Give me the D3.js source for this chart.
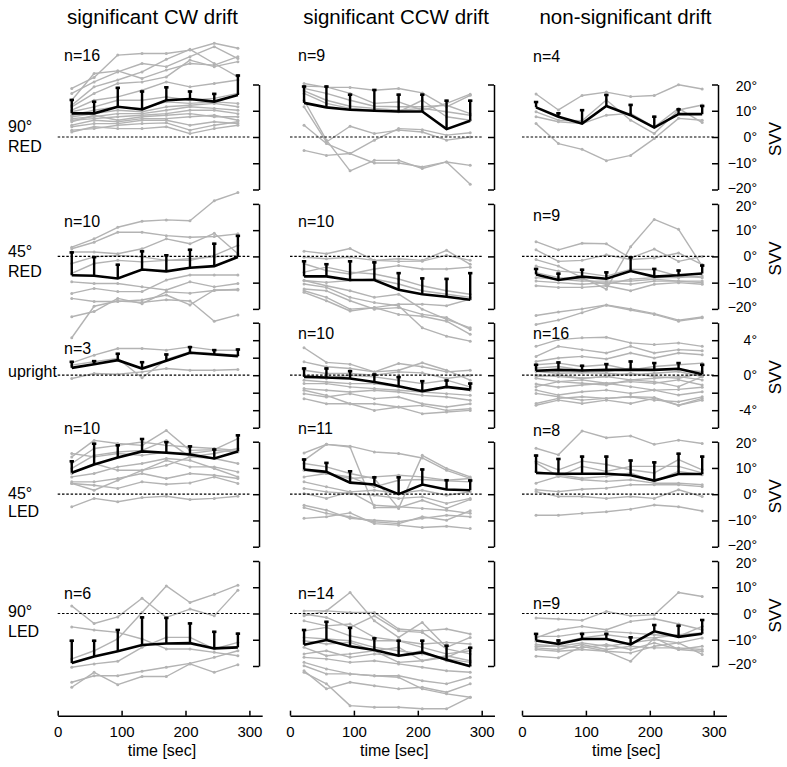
<!DOCTYPE html>
<html><head><meta charset="utf-8">
<script src="https://cdn.jsdelivr.net/npm/d3@7"></script>
<style>
body{margin:0;background:#fff}
svg{display:block}
text{font-family:"Liberation Sans",Arial,Helvetica,sans-serif;fill:#000}
</style>
</head><body>
<svg id="chart" width="787" height="767"></svg>
<script>
// ---------------- DATA ----------------
const times = [22, 57, 94, 132, 170, 207, 245, 282];
const columnTitles = ["significant CW drift", "significant CCW drift", "non-significant drift"];
const rowLabels = [["90°", "RED"], ["45°", "RED"], ["upright"], ["45°", "LED"], ["90°", "LED"]];
const nCounts = [[16, 9, 4], [10, 10, 9], [3, 10, 16], [10, 11, 8], [6, 14, 9]];
const xTicks = [0, 100, 200, 300];
const yTicksWide = [-20, -10, 0, 10, 20];
const yTickLabelsWide = ["−20°", "−10°", "0°", "10°", "20°"];
const yTicksUpright = [-6, -4, -2, 0, 2, 4, 6];
const yLabelTicksUpright = [-4, 0, 4];
const yTickLabelsUpright = ["-4°", "0°", "4°"];

// 90° RED
const red90_cw_mean = [9, 9, 11.5, 10.5, 14, 14.5, 13.5, 16];
const red90_cw_sd = [5.5, 4.8, 7.6, 7.2, 5.3, 3.2, 3.3, 7.8];
const red90_cw_subjects = [
  [18.5, 22.7, 31.2, 31.8, 31.8, 33.1, 35.7, 33.8],
  [16.6, 21.0, 24.8, 28.0, 26.8, 30.6, 34.4, 29.9],
  [14.0, 24.2, 25.2, 22.3, 25.5, 28.0, 27.4, 30.6],
  [12.1, 19.1, 21.7, 24.8, 29.6, 33.4, 28.0, 22.9],
  [11.5, 16.6, 20.4, 21.0, 22.9, 29.3, 26.8, 28.7],
  [10.2, 14.0, 15.3, 17.8, 21.0, 19.1, 20.4, 21.7],
  [9.6, 11.5, 14.0, 14.0, 15.3, 14.0, 14.7, 16.6],
  [8.3, 10.2, 11.5, 10.9, 13.4, 12.8, 13.4, 12.8],
  [7.7, 8.9, 10.2, 9.6, 11.5, 12.1, 12.8, 11.5],
  [7.0, 7.7, 8.9, 8.9, 10.2, 11.5, 10.9, 10.2],
  [6.4, 7.0, 7.7, 8.3, 8.9, 10.2, 10.2, 8.9],
  [5.8, 8.3, 6.4, 7.7, 8.3, 8.9, 7.7, 7.7],
  [4.5, 6.4, 5.8, 7.0, 7.0, 7.7, 8.3, 6.4],
  [3.9, 5.1, 5.1, 6.4, 6.4, 4.5, 5.8, 5.1],
  [2.6, 3.2, 4.5, 5.1, 5.4, 2.6, 4.5, 5.8],
  [1.9, 3.9, 3.2, 3.2, 3.9, 1.3, 3.2, 4.5]
];
const red90_ccw_mean = [13, 11.3, 10.4, 10, 9.7, 9.7, 3, 6.2];
const red90_ccw_sd = [6.6, 8.3, 6.1, 8.3, 6.8, 6.8, 11.2, 8];
const red90_ccw_subjects = [
  [20.4, 18.9, 18.9, 17.8, 18.5, 16.8, 11.5, 15.9],
  [19.4, 19.1, 16.6, 12.8, 13.4, 10.2, 12.8, 16.3],
  [18.5, 16.6, 14.0, 11.7, 11.5, 11.5, 12.1, 8.9],
  [17.6, 14.0, 11.7, 10.9, 10.2, 10.9, 9.6, 8.3],
  [16.6, 12.8, 10.9, 10.2, 9.6, 14.0, 7.7, 6.4],
  [11.5, -1.9, 4.1, 1.3, 2.6, 1.9, -1.2, 0.0],
  [4.5, -2.5, -6.3, -1.2, 3.2, 2.8, 0.7, 1.6],
  [-5.1, -7.0, -6.3, -9.9, -9.9, -11.4, -9.5, -10.8],
  [14.0, -1.2, -12.9, -8.9, -8.9, -12.0, -9.5, -18.0]
];
const red90_ns_mean = [11.3, 7.7, 5.1, 11.8, 8.3, 3.6, 8.7, 8.7];
const red90_ns_sd = [2.4, 1.7, 5.5, 4.6, 4.3, 4.5, 2.2, 3.5];
const red90_ns_subjects = [
  [16.4, 10.3, 15.8, 17.1, 15.4, 15.8, 19.9, 18.3],
  [9.6, 6.4, 6.2, 14.1, 6.4, 1.3, 10.3, 12.2],
  [7.7, 5.8, 5.1, 8.3, 9.0, 3.8, 10.9, 5.5],
  [5.1, -2.5, -4.7, -9.0, -7.0, -0.6, 7.1, 6.4]
];

// 45° RED
const red45_cw_mean = [-7.2, -7.4, -8.4, -5, -5.7, -4.3, -3.7, -0.2];
const red45_cw_sd = [9.1, 7.5, 5.6, 7.3, 6.5, 7.2, 8.9, 8.4];
const red45_cw_subjects = [
  [3.5, 6.7, 11.1, 13.4, 13.9, 13.6, 21.2, 24.3],
  [2.9, 5.4, 9.2, 9.2, 7.9, 7.3, 7.6, 8.6],
  [1.7, 1.7, 1.0, 2.9, 6.7, 4.8, 8.8, 1.0],
  [-2.7, -0.2, 0.4, -0.2, -1.5, -0.9, -0.2, 0.4],
  [-6.5, -2.7, -1.5, -2.1, -1.5, -1.5, 0.4, 4.2],
  [-9.7, -10.3, -10.3, -11.6, -12.8, -9.7, -11.6, -10.3],
  [-14.1, -12.2, -13.4, -13.4, -9.0, -7.1, -7.1, -7.1],
  [-16.0, -17.2, -17.2, -16.6, -14.7, -18.5, -12.8, -12.8],
  [-23.0, -21.0, -16.0, -18.0, -13.5, -14.0, -13.0, -12.5],
  [-31.0, -19.0, -17.0, -17.5, -16.5, -17.0, -24.7, -22.3]
];
const red45_ccw_mean = [-7.6, -7.6, -9, -9, -12.7, -14.4, -15.4, -16.5];
const red45_ccw_sd = [6.1, 5, 7.5, 7.1, 6.7, 6.4, 7.2, 10.5];
const red45_ccw_subjects = [
  [2.0, 1.0, 3.0, -1.5, -0.9, -1.5, 2.3, -3.0],
  [-0.3, -0.9, -0.3, -1.5, -1.9, -1.8, 0.4, -1.5],
  [-2.8, -5.4, -6.7, -4.8, -3.5, -4.8, -4.8, -4.1],
  [-6.0, -4.1, -6.0, -6.7, -8.6, -11.2, -13.1, -14.4],
  [-9.2, -9.9, -9.2, -8.6, -10.5, -13.1, -14.4, -15.6],
  [-12.4, -13.1, -16.9, -20.1, -19.5, -22.1, -23.3, -27.8],
  [-13.1, -15.6, -20.1, -19.5, -18.2, -18.2, -18.8, -16.3],
  [-13.7, -16.9, -20.8, -19.5, -22.1, -22.8, -24.7, -29.7],
  [-10.5, -11.8, -15.6, -17.6, -18.8, -27.2, -30.4, -32.3],
  [-9.2, -11.2, -13.1, -15.6, -14.4, -20.1, -24.0, -27.2]
];
const red45_ns_mean = [-6.9, -9, -7.7, -8.5, -5.6, -7.7, -7.2, -6.5];
const red45_ns_sd = [2.5, 2.8, 3, 2.8, 5.6, 3.3, 2.2, 3.4];
const red45_ns_subjects = [
  [5.6, 2.5, 5.0, 4.8, -0.6, 2.8, -1.9, 0.0],
  [2.5, -1.9, -1.5, 0.6, -1.2, -0.6, 1.3, -3.1],
  [-1.2, -3.7, -8.1, -12.5, 3.7, 14.1, 10.3, -3.7],
  [-3.7, -5.6, -6.2, -7.5, -5.0, -5.0, -7.5, -8.1],
  [-6.2, -8.1, -8.7, -10.6, -8.7, -8.1, -8.1, -7.5],
  [-8.1, -8.7, -9.4, -9.4, -9.4, -8.7, -9.4, -9.4],
  [-9.4, -10.0, -10.6, -10.0, -10.6, -9.4, -9.4, -10.0],
  [-11.2, -11.8, -11.8, -11.2, -13.1, -10.6, -10.0, -10.6],
  [-22.5, -21.2, -20.0, -18.5, -20.0, -21.8, -24.3, -23.1]
];

// upright
const upright_cw_mean = [0.84, 1.26, 1.72, 0.76, 1.64, 2.56, 2.37, 2.18];
const upright_cw_sd = [0.8, 0.46, 0.84, 0.84, 0.84, 0.76, 0.61, 0.87];
const upright_cw_subjects = [
  [1.41, 2.29, 3.05, 3.05, 2.86, 3.24, 2.86, 2.86],
  [1.15, 1.53, 1.91, -0.3, 1.8, 2.67, 2.48, 2.29],
  [-0.38, 0.19, 0.11, 0.38, 0.76, 0.57, 0.57, 0.65]
];
const upright_ccw_mean = [-0.19, -0.27, -0.38, -0.77, -1.26, -1.84, -1.34, -1.65];
const upright_ccw_sd = [1.07, 1.15, 0.95, 0.96, 1.15, 1.27, 0.84, 0.81];
const upright_ccw_subjects = [
  [3.14, 1.46, 1.26, 0.38, 0.57, 1.42, 0.57, -0.57],
  [1.53, 0.96, 0.77, 0.38, 1.34, 0.96, 0.38, 0.57],
  [0.57, 0.19, 0.19, 0, 0.38, 0.27, -0.38, 0],
  [0, -0.38, 0, -0.19, -0.57, -0.96, -0.57, -1.34],
  [-0.57, -0.77, -0.96, -0.96, -1.34, -1.72, -1.34, -1.72],
  [-0.96, -0.96, -1.34, -1.53, -1.72, -1.92, -2.11, -2.30],
  [-1.53, -1.72, -1.92, -1.72, -1.92, -2.30, -2.49, -2.87],
  [-2.11, -2.49, -2.11, -2.68, -2.49, -3.26, -3.64, -3.26],
  [-2.68, -3.26, -3.26, -3.26, -3.64, -3.45, -4.02, -3.83],
  [-1.72, -2.30, -3.26, -4.02, -3.64, -4.40, -4.21, -4.02]
];
const upright_ns_mean = [0.5, 0.61, 0.53, 0.61, 0.61, 0.61, 0.73, 0.12];
const upright_ns_sd = [0.8, 0.96, 0.66, 0.77, 1.07, 0.89, 0.77, 1.18];
const upright_ns_subjects = [
  [5.8, 6.3, 7.15, 8.0, 7.45, 6.95, 6.18, 6.57],
  [3.3, 4.07, 4.27, 4.34, 3.69, 3.5, 3.69, 3.3],
  [2.15, 3.3, 2.92, 2.54, 3.3, 2.54, 2.92, 2.8],
  [1.57, 1.96, 2.15, 1.85, 2.54, 1.96, 2.54, 2.34],
  [1.19, 1.38, 0.99, 1.19, 0.61, 0.99, 1.19, 1.38],
  [0.81, 0.99, 0.61, 0.42, 0.81, 0.61, 0.61, 0.42],
  [0.42, 0.23, 0.30, 0.23, 0.03, 0.23, 0.42, -0.16],
  [0.03, -0.16, -0.35, -0.16, -0.54, -0.35, -0.16, -0.54],
  [-0.35, -0.74, -0.54, -0.92, -0.74, -0.92, -0.54, -1.12],
  [-1.31, -0.74, -0.92, -1.12, -0.54, -0.74, -1.31, -0.16],
  [-1.70, -2.27, -1.89, -1.70, -2.08, -1.70, -2.27, -1.89],
  [-2.08, -2.47, -2.85, -2.65, -2.47, -2.85, -3.04, -2.47],
  [-3.23, -2.65, -2.47, -2.65, -2.47, -2.54, -3.43, -2.65],
  [-3.43, -2.85, -3.23, -2.85, -3.23, -2.65, -3.43, -2.85],
  [-1.0, -1.38, -1.12, -0.92, -1.31, -1.70, -1.62, -1.38],
  [-0.16, 0.03, -0.35, -0.16, 0.23, -0.16, -0.35, 0.23]
];

// 45° LED
const led45_cw_mean = [8.2, 11.3, 14, 16.3, 15.8, 15.1, 13.6, 16.3];
const led45_cw_sd = [4.7, 8.3, 5, 5.1, 4.4, 3.5, 3.8, 6.5];
const led45_cw_subjects = [
  [14.2, 20.5, 19.3, 18.6, 24.3, 16.7, 17.0, 21.2],
  [11.7, 17.4, 18.6, 19.9, 18.6, 18.0, 17.4, 16.7],
  [9.8, 14.8, 16.1, 16.7, 20.5, 14.2, 15.5, 17.4],
  [15.5, 14.2, 15.5, 14.8, 16.1, 15.5, 16.7, 16.1],
  [7.9, 11.7, 9.1, 9.1, 12.9, 10.4, 10.4, 8.5],
  [6.6, 7.9, 10.4, 11.7, 13.6, 12.9, 9.8, 6.6],
  [4.7, 4.7, 6.0, 7.9, 6.0, 7.9, 7.2, 6.0],
  [4.1, 1.5, 5.3, 9.1, 11.0, 14.2, 13.6, 11.7],
  [4.1, 3.4, 2.2, 4.7, 3.8, 4.3, 6.6, 4.1],
  [-4.8, -1.6, -2.9, -1.3, -0.8, -2.0, -1.6, -0.8]
];
const led45_ccw_mean = [9.4, 8.5, 4.4, 3.7, 0, 3.7, 1.8, 1.5];
const led45_ccw_sd = [4.2, 3.8, 4.7, 3.1, 6.8, 6.1, 3.9, 4.1];
const led45_ccw_subjects = [
  [15.7, 19.0, 18.3, 16.1, 15.5, 13.8, 9.1, 6.0],
  [12.9, 19.0, 18.0, -5.1, -5.1, -2.3, -5.4, -2.0],
  [11.7, 10.4, 7.9, 6.0, -5.4, 14.8, 9.8, 6.6],
  [9.1, 7.9, 6.0, 6.6, 7.2, 6.6, 5.3, 6.0],
  [6.6, 7.9, 6.6, 2.8, 5.3, 5.6, 5.1, 4.7],
  [4.7, 2.8, 0.9, 1.5, 0.3, 1.5, -0.4, 0.9],
  [2.2, 0.9, 0.3, -0.4, -1.6, -1.0, -3.5, -1.6],
  [0.3, -1.6, 0.9, -4.2, -4.8, -5.4, -6.1, -7.3],
  [-5.1, -7.3, -8.6, -10.5, -11.2, -8.6, -9.9, -6.3],
  [-9.2, -8.6, -7.1, -11.2, -11.8, -12.7, -12.2, -13.1],
  [-4.2, -6.1, -9.2, -9.9, -10.5, -9.2, -8.0, -8.6]
];
const led45_ns_mean = [8.1, 7.8, 7.8, 7.8, 7.2, 5.2, 7.7, 7.7];
const led45_ns_sd = [7, 6, 6.9, 6.9, 6, 7.3, 8.1, 7];
const led45_ns_subjects = [
  [17.5, 15.0, 24.1, 21.5, 22.2, 19.0, 20.6, 19.3],
  [12.6, 9.3, 12.6, 11.3, 9.3, 8.1, 13.2, 9.3],
  [11.9, 6.8, 10.6, 8.7, 10.6, 10.6, 10.6, 8.1],
  [8.7, 7.4, 6.1, 6.8, 8.1, 4.9, 8.7, 7.4],
  [4.2, 6.8, 5.5, 4.9, 5.5, 4.2, 4.2, 3.6],
  [1.7, 1.0, 1.9, 2.3, 3.6, 3.6, 3.6, 2.9],
  [1.0, -0.9, -0.9, -1.6, -0.9, -1.6, 1.7, -0.9],
  [-8.0, -8.0, -7.3, -6.7, -5.7, -4.1, -4.8, -6.4]
];

// 90° LED
const led90_cw_mean = [-18.9, -16.4, -14.4, -12.0, -11.4, -11.3, -13.3, -12.9];
const led90_cw_sd = [8.9, 6.4, 8.5, 10.9, 10.1, 7.9, 6.7, 5.6];
const led90_cw_subjects = [
  [2.9, -3.8, -1.3, 5.8, -1.5, 1.7, -0.9, 8.9],
  [-17.3, -14.2, -9.7, 0.4, 10.5, 4.2, 7.3, 10.8],
  [-5.1, -6.3, -7.2, -9.7, -13.5, -13.5, -14.8, -16.1],
  [-20.5, -19.2, -18.2, -12.9, -9.1, -9.1, -13.5, -11.0],
  [-28.1, -22.4, -27.1, -24.0, -24.0, -19.2, -22.4, -19.5],
  [-26.2, -23.7, -23.7, -22.0, -20.5, -19.0, -16.7, -14.2]
];
const led90_ccw_mean = [-11.9, -10.1, -12.5, -13.9, -16.1, -14.8, -17.6, -20.1];
const led90_ccw_sd = [6, 7.3, 7.4, 4.8, 6.1, 4.8, 5.7, 7.4];
const led90_ccw_subjects = [
  [-0.9, 1.0, 8.0, -2.8, -9.1, -3.4, -12.9, -9.1],
  [1.0, 1.0, 0.4, 0.4, -5.9, -6.6, -5.9, -7.8],
  [-0.2, -1.5, -5.3, -0.9, -6.6, -7.2, -13.5, -15.4],
  [-2.8, -4.7, -4.0, -9.1, -10.4, -12.9, -15.4, -14.2],
  [-6.6, -5.3, -8.5, -10.4, -10.4, -11.6, -11.0, -11.6],
  [-9.1, -9.7, -10.4, -12.9, -14.2, -15.4, -17.3, -18.6],
  [-10.4, -11.6, -11.0, -14.2, -12.9, -18.0, -16.7, -12.9],
  [-12.9, -16.1, -15.4, -14.2, -18.6, -18.0, -16.1, -18.0],
  [-15.4, -14.2, -16.7, -15.4, -16.1, -14.2, -18.0, -19.9],
  [-16.7, -17.3, -18.6, -18.0, -19.2, -20.5, -21.8, -22.4],
  [-18.6, -21.1, -23.0, -23.7, -23.7, -25.6, -26.8, -24.3],
  [-21.8, -28.7, -26.2, -27.5, -28.7, -28.1, -30.0, -26.8],
  [-19.9, -23.0, -23.0, -23.7, -24.3, -28.7, -30.6, -31.9],
  [-22.4, -26.8, -35.1, -35.7, -35.7, -36.3, -36.3, -31.9]
];
const led90_ns_mean = [-10.3, -11.6, -9.7, -9.7, -11.8, -6.8, -8.9, -7.7];
const led90_ns_sd = [2.9, 1.7, 2.3, 2.3, 3.1, 2.8, 4.6, 5.6];
const led90_ns_subjects = [
  [-1.7, -2.1, -2.6, 0.8, -0.9, -0.5, 8.0, 6.5],
  [-9.3, -6.2, -4.9, -6.2, -3.0, -2.0, -4.0, -6.2],
  [-8.7, -8.7, -7.4, -6.8, -7.4, -8.1, -8.7, -4.9],
  [-10.6, -11.2, -9.3, -8.1, -9.3, -9.3, -8.1, -7.4],
  [-11.8, -12.5, -11.2, -12.5, -11.2, -9.9, -11.2, -9.3],
  [-12.5, -12.5, -13.1, -11.8, -13.7, -11.2, -13.7, -12.5],
  [-13.1, -13.7, -11.8, -13.7, -12.5, -13.1, -13.1, -13.7],
  [-13.7, -14.4, -13.7, -14.4, -18.2, -9.3, -13.7, -14.4],
  [-16.3, -16.9, -12.5, -14.4, -15.0, -12.5, -11.2, -15.6]
];

// ---------------- LAYOUT ----------------
const panels = [
  [[red90_cw_mean, red90_cw_sd, red90_cw_subjects], [red90_ccw_mean, red90_ccw_sd, red90_ccw_subjects], [red90_ns_mean, red90_ns_sd, red90_ns_subjects]],
  [[red45_cw_mean, red45_cw_sd, red45_cw_subjects], [red45_ccw_mean, red45_ccw_sd, red45_ccw_subjects], [red45_ns_mean, red45_ns_sd, red45_ns_subjects]],
  [[upright_cw_mean, upright_cw_sd, upright_cw_subjects], [upright_ccw_mean, upright_ccw_sd, upright_ccw_subjects], [upright_ns_mean, upright_ns_sd, upright_ns_subjects]],
  [[led45_cw_mean, led45_cw_sd, led45_cw_subjects], [led45_ccw_mean, led45_ccw_sd, led45_ccw_subjects], [led45_ns_mean, led45_ns_sd, led45_ns_subjects]],
  [[led90_cw_mean, led90_cw_sd, led90_cw_subjects], [led90_ccw_mean, led90_ccw_sd, led90_ccw_subjects], [led90_ns_mean, led90_ns_sd, led90_ns_subjects]]
];

const colX0 = [57.7, 290, 522];
const pxPerSec = 0.639;
const xMax = 320;
const yAxisX = [259, 494, 718];
const rowZero = [137, 256.4, 375.2, 494.2, 613.5];
const halfH = 52.5;
const xAxisY = 715.7;
const titleX = [152.5, 396, 625.5];
const nLabelX = [64, 298, 533];
const nLabelY = [[60.7, 60.7, 62], [227.4, 227.4, 220.7], [354, 339, 339], [434, 434, 435.7], [599, 599, 609]];
const rowLabelY = [[131.7, 151.7], [257.3, 276.7], [377], [498.5, 516.7], [617.3, 637.3]];

const GRAY = "#b3b3b3";
const svg = d3.select("#chart");

// titles
columnTitles.forEach((t, c) => {
  svg.append("text").attr("x", titleX[c]).attr("y", 24).attr("text-anchor", "middle")
    .style("font-size", "20.5px").text(t);
});

// row labels
rowLabels.forEach((lines, r) => {
  lines.forEach((s, k) => {
    svg.append("text").attr("x", 8).attr("y", rowLabelY[r][k]).style("font-size", "16px").text(s);
  });
});

panels.forEach((row, r) => {
  row.forEach(([mean, sd, subjects], c) => {
    const x = d3.scaleLinear().domain([0, xMax]).range([colX0[c], colX0[c] + xMax * pxPerSec]);
    const lim = r === 2 ? 6 : 20;
    const y = d3.scaleLinear().domain([-lim, lim]).range([rowZero[r] + halfH, rowZero[r] - halfH]);
    const g = svg.append("g");
    const line = d3.line().x((d, i) => x(times[i])).y(d => y(d));

    // individual subjects
    subjects.forEach(s => {
      g.append("path").attr("d", line(s)).attr("fill", "none")
        .attr("stroke", GRAY).attr("stroke-width", 1.4).attr("stroke-linejoin", "round");
      g.selectAll(null).data(s).enter().append("circle")
        .attr("cx", (d, i) => x(times[i])).attr("cy", d => y(d)).attr("r", 1.5).attr("fill", GRAY);
    });

    // zero reference
    g.append("line").attr("x1", x(0)).attr("x2", x(300)).attr("y1", y(0)).attr("y2", y(0))
      .attr("stroke", "#000").attr("stroke-width", 1.2).attr("stroke-dasharray", "2.5,1.8");

    // error bars (upward SD)
    mean.forEach((m, i) => {
      const xi = x(times[i]);
      g.append("line").attr("x1", xi).attr("x2", xi).attr("y1", y(m)).attr("y2", y(m + sd[i]))
        .attr("stroke", "#000").attr("stroke-width", 2.4);
      g.append("line").attr("x1", xi - 2.2).attr("x2", xi + 2.2).attr("y1", y(m + sd[i]) + 1).attr("y2", y(m + sd[i]) + 1)
        .attr("stroke", "#000").attr("stroke-width", 2.6);
    });
    // mean line
    g.append("path").attr("d", line(mean)).attr("fill", "none")
      .attr("stroke", "#000").attr("stroke-width", 2.6).attr("stroke-linejoin", "miter");

    // y axis bracket
    const yAxis = d3.axisLeft(y).tickValues(r === 2 ? yTicksUpright : yTicksWide)
      .tickSize(6).tickSizeOuter(0).tickFormat("");
    const ya = svg.append("g").attr("transform", `translate(${yAxisX[c]},0)`).call(yAxis);
    ya.select(".domain").attr("stroke-width", 1.5);
    ya.selectAll(".tick line").attr("stroke-width", 1.5);

    // tick labels + SVV on the right column
    if (c === 2) {
      const vals = r === 2 ? yLabelTicksUpright : yTicksWide;
      const labs = r === 2 ? yTickLabelsUpright : yTickLabelsWide;
      vals.forEach((v, k) => {
        const nudge = (v === lim) ? 1.6 : (v === -lim ? -1.6 : 0);
        svg.append("text").attr("x", 757).attr("y", y(v) + nudge).attr("dy", "0.36em")
          .attr("text-anchor", "end").style("font-size", "14px").text(labs[k]);
      });
      svg.append("text").attr("transform", `translate(781,${y(0) + 2}) rotate(-90)`)
        .attr("text-anchor", "middle").style("font-size", "17px").text("SVV");
    }

    // n label
    svg.append("text").attr("x", nLabelX[c]).attr("y", nLabelY[r][c]).style("font-size", "16px")
      .text("n=" + nCounts[r][c]);

    // x axis at bottom
    if (r === 4) {
      const xa = svg.append("g").attr("transform", `translate(0,${xAxisY})`)
        .call(d3.axisBottom(x).tickValues(xTicks).tickSize(-5).tickSizeOuter(0).tickPadding(11));
      xa.select(".domain").attr("stroke-width", 1.5);
      xa.selectAll(".tick line").attr("stroke-width", 1.5);
      xa.selectAll(".tick text").style("font-size", "15px").style("font-family", "Liberation Sans, Arial, sans-serif");
      svg.append("text").attr("x", (x(0) + x(xMax)) / 2 + 2).attr("y", 755.5).attr("text-anchor", "middle")
        .style("font-size", "16px").text("time [sec]");
    }
  });
});
</script>
</body></html>
